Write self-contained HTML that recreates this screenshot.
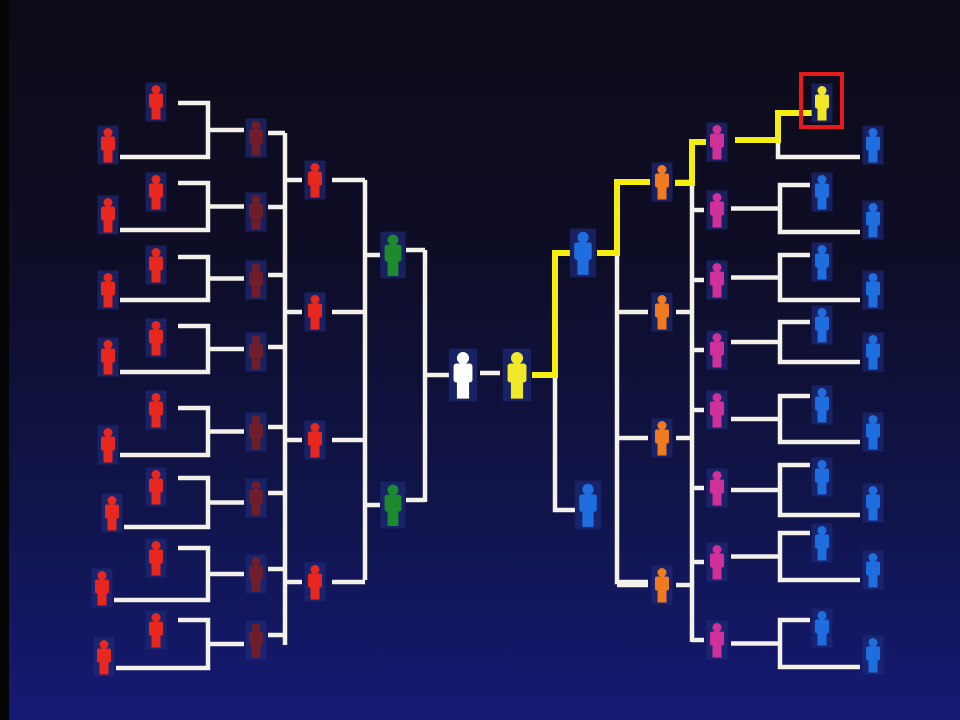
<!DOCTYPE html>
<html><head><meta charset="utf-8"><style>
html,body{margin:0;padding:0;width:960px;height:720px;overflow:hidden;background:#0c0a18}
svg{display:block}
</style></head><body>
<svg id="s" width="960" height="720" xmlns="http://www.w3.org/2000/svg">
<defs>
<linearGradient id="bg" x1="0" y1="0" x2="0" y2="1">
<stop offset="0" stop-color="#0d0b17"/>
<stop offset="0.35" stop-color="#0e0d26"/>
<stop offset="0.7" stop-color="#10144a"/>
<stop offset="1" stop-color="#151a74"/>
</linearGradient>
</defs>
<rect width="960" height="720" fill="url(#bg)"/>
<rect x="0" y="0" width="9" height="720" fill="#050505"/>
<g id="lines" fill="none" stroke="#f4f0ea" stroke-width="4.5" stroke-linejoin="miter" stroke-linecap="butt"></g>
<g id="ylines" fill="none" stroke="#f5ee10" stroke-width="6" stroke-linejoin="miter"></g>
<g id="icons"></g>
<rect x="801" y="74" width="41" height="53" fill="none" stroke="#e41b1b" stroke-width="4"/>
</svg>
<script>
const L=document.getElementById('lines'),Y=document.getElementById('ylines'),I=document.getElementById('icons');
const NS='http://www.w3.org/2000/svg';
function p(g,d){const e=document.createElementNS(NS,'path');e.setAttribute('d',d);g.appendChild(e);}
function icon(cx,cy,c,s){s=s||1;const w=21*s,h=39*s;
 let g=document.createElementNS(NS,'g');
 g.innerHTML=`<rect x="${cx-w/2}" y="${cy-h/2}" width="${w}" height="${h}" fill="#1c2a78" opacity="0.7"/>
 <circle cx="${cx}" cy="${cy-h/2+7*s}" r="${4.5*s}" fill="${c}"/>
 <rect x="${cx-7*s}" y="${cy-h/2+11*s}" width="${14*s}" height="${14*s}" rx="${2*s}" fill="${c}"/>
 <rect x="${cx-4.5*s}" y="${cy-h/2+24*s}" width="${9*s}" height="${13*s}" fill="${c}"/>`;
 I.appendChild(g);}
const lp=[[102,145,103,157],[192,215,183,230],[265,290,257,300],[338,357,326,372],[410,445,408,455],[487,513,478,527],[558,588,548,600],[630,657,620,668]];
const lx=[108,108,108,108,108,112,102,104];
lp.forEach((a,i)=>{icon(156,a[0],'#e8281e');icon(lx[i],a[1],'#e8281e');
 p(L,`M178 ${a[2]}H208V${a[3]}H${lx[i]+12}`);});
const r2=[138,212,280,352,432,498,574,640];
r2.forEach((y,i)=>{const my=(lp[i][2]+lp[i][3])/2;p(L,`M208 ${my}H244`);icon(256,y,'#6e1e2a');p(L,`M268 ${y-5}H285`);});
p(L,'M285 133V645');
const r3=[180,312,440,582];
r3.forEach(y=>{p(L,`M285 ${y}H302`);icon(315,y,'#e8281e');p(L,`M332 ${y}H365`);});
p(L,'M365 180V580');
[[255,250],[505,500]].forEach(a=>{p(L,`M365 ${a[0]}H380`);icon(393,a[0],'#1e8a2e',1.2);p(L,`M406 ${a[1]}H425`);});
p(L,'M425 250V502');p(L,'M425 375H449');
icon(463,375,'#ffffff',1.35);p(L,'M480 373H500');
icon(517,375,'#f2e82a',1.35);
p(L,'M555 375V510H575');icon(588,505,'#1e6ee0',1.25);
p(L,'M617 253V582H648');
icon(583,253,'#1e6ee0',1.25);
const r3r=[182,312,438,585];
r3r.forEach((y,i)=>{icon(662,y,'#f07a20');if(i>0){p(L,`M617 ${y}H648`);}p(L,`M676 ${y}H692`);});
p(L,'M692 183V642');
const mg=[142,210,280,350,410,488,562,640];
const rp=[[103,145,113,157],[192,220,185,232],[262,290,255,300],[325,352,322,362],[405,432,396,442],[477,503,465,515],[543,570,533,580],[628,655,620,667]];
mg.forEach((y,i)=>{if(i>0)p(L,`M692 ${y}H704`);icon(717,y,'#d0309a');
 const a=rp[i];const my=(a[2]+a[3])/2;
 if(i>0){p(L,`M731 ${my}H780`);p(L,`M810 ${a[2]}H780V${a[3]}H860`);icon(822,a[0],'#1e6ee0');}
 else{p(L,`M778 140V${a[3]}H860`);icon(822,a[0],'#f2e82a');}
 icon(873,a[1],'#1e6ee0');});
p(Y,'M532 375H555V253H570');
p(Y,'M597 253H617V182H650');
p(Y,'M675 183H692V142H706');
p(Y,'M735 140H778V113H812');
</script>
</body></html>
